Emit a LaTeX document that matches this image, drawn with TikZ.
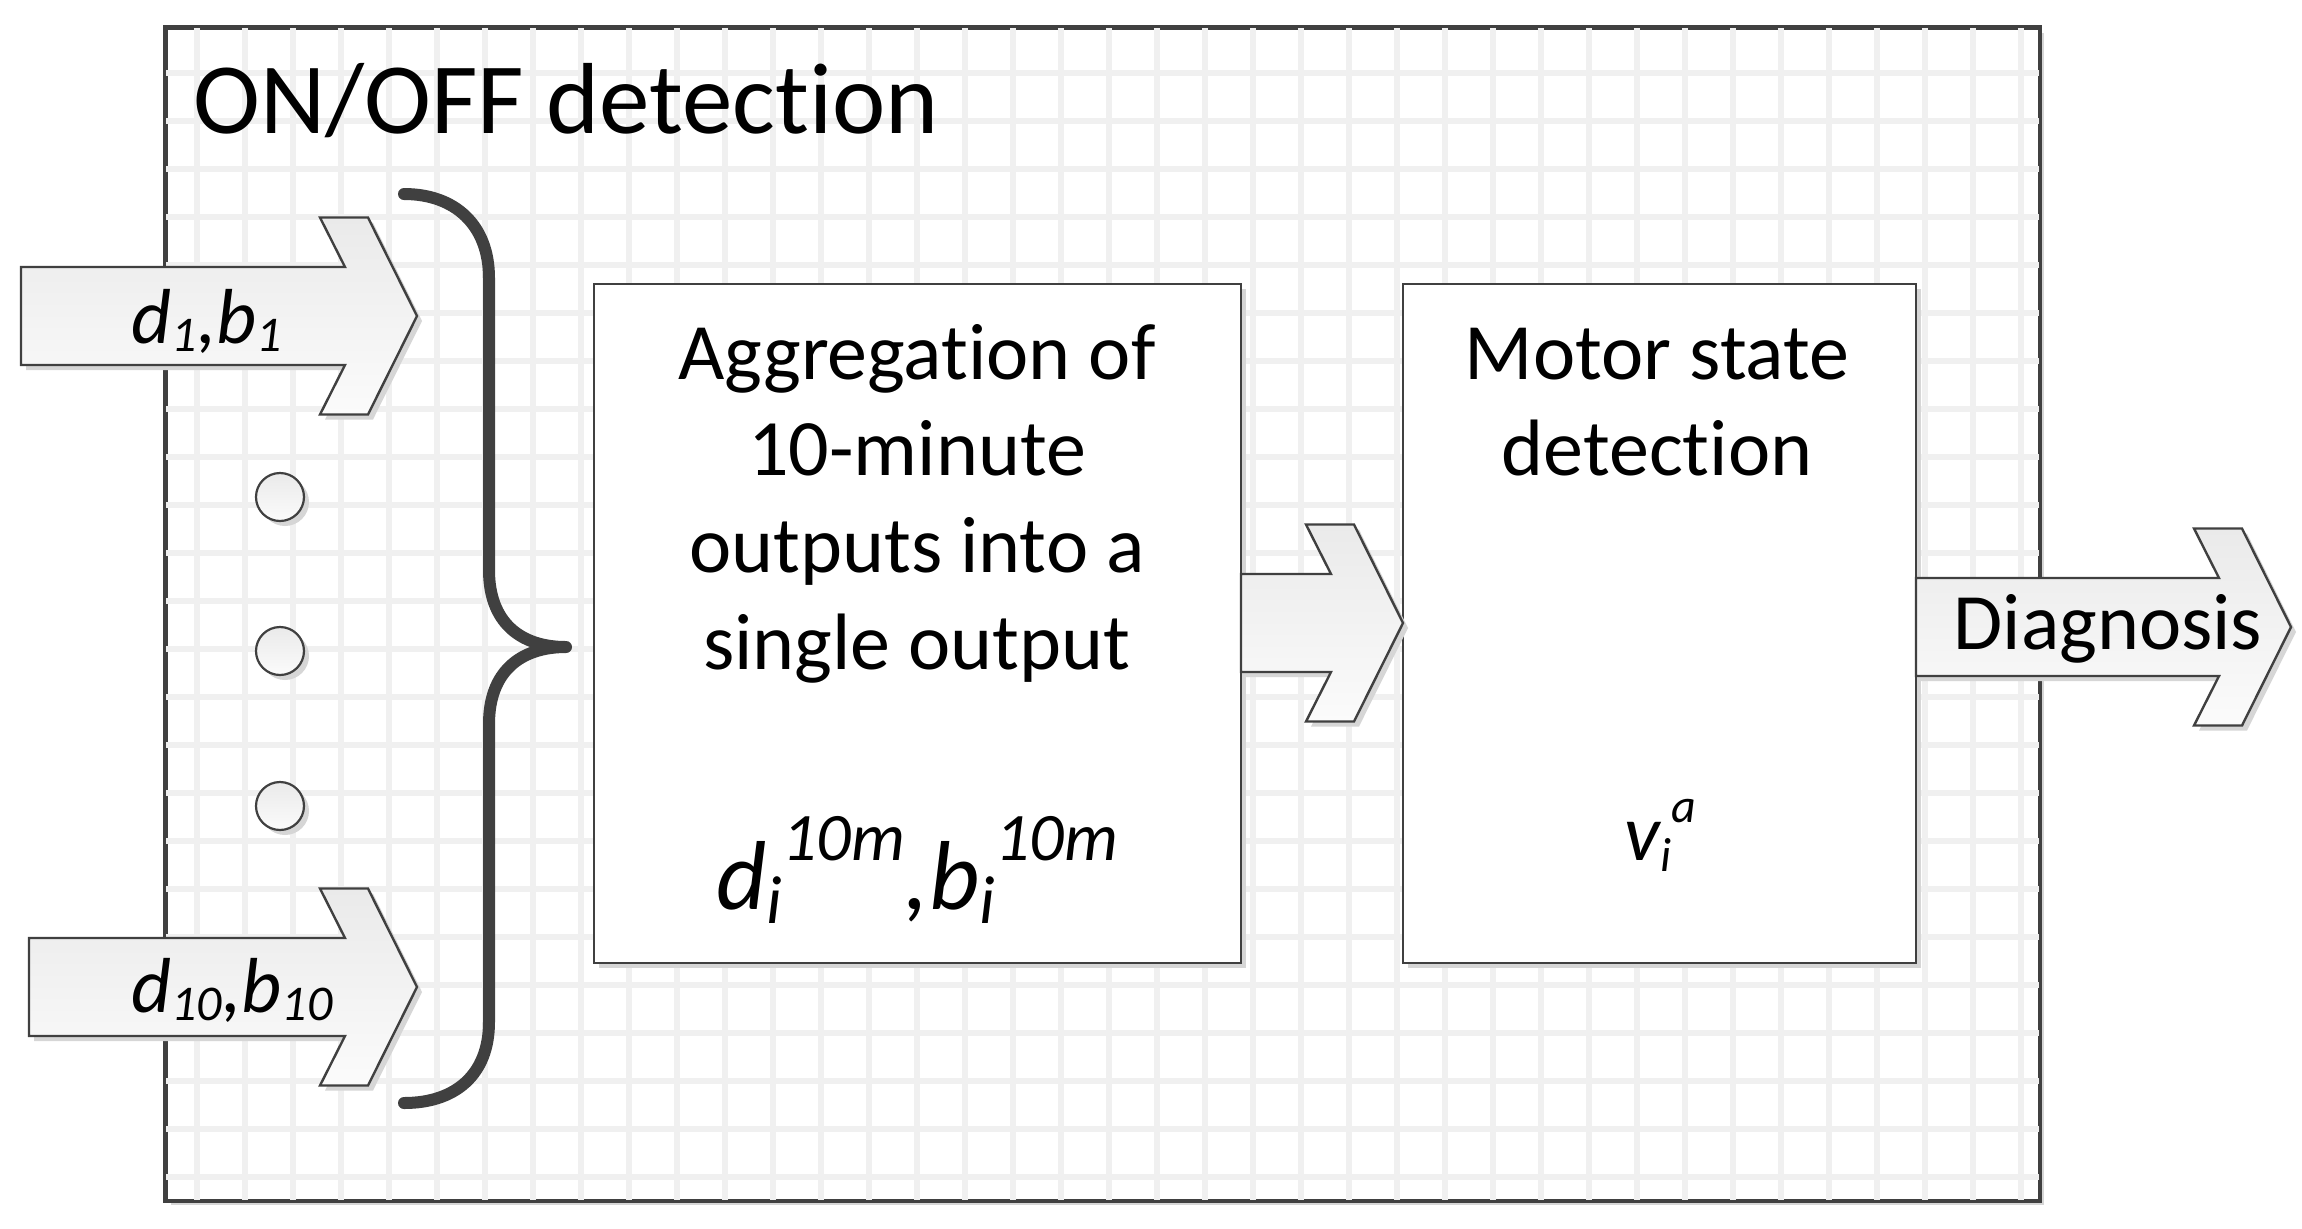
\documentclass[tikz,border=0pt]{standalone}
\usepackage{fontspec}
\setmainfont{Carlito}[Ligatures={NoCommon,NoContextual}]
\usetikzlibrary{shadows}
\definecolor{lc}{HTML}{404040}
\definecolor{gridc}{HTML}{F0F0F0}
\definecolor{agtop}{HTML}{EAEAEA}
\definecolor{agbot}{HTML}{FBFBFB}
\definecolor{shdc}{HTML}{D6D6D6}
\newcommand\tI{t\kern0pt i}
\newcommand\lsc[3]{\raisebox{#2}{\fontsize{#1}{#1}\selectfont #3}}
\newcommand\blockarrow[4]{%
  \draw[barrowstyle] (#1,{#3-49}) -- ({#2-72},{#3-49}) -- ({#2-97},{#3-98.5})
    -- ({#2-49},{#3-98.5}) -- (#2,#3) -- ({#2-49},{#3+98.5}) -- ({#2-97},{#3+98.5})
    -- ({#2-72},{#3+49}) -- (#1,{#3+49}) -- cycle;
  \coordinate (#4) at (#2,#3);}
\tikzset{
  shd/.style={drop shadow={shadow xshift=2.5pt,shadow yshift=-2.5pt,fill=shdc,opacity=1}},
  barrowstyle/.style={draw=lc,line width=1.2pt,top color=agtop,bottom color=agbot,shd,line join=miter},
  boxstyle/.style={draw=lc,line width=1.4pt,fill=white,shd,inner sep=0pt},
  framestyle/.style={draw=lc,line width=1.5pt,fill=white,shd,inner sep=0pt},
  dotstyle/.style={circle,draw=lc,line width=1.1pt,top color=agtop,bottom color=agbot,shd,minimum size=24pt,inner sep=0pt},
  bracestyle/.style={draw=lc,line width=6pt,line cap=round,line join=round},
  bigtext/.style={font=\fontsize{40}{48.35}\selectfont,inner sep=0pt,anchor=base},
}
\begin{document}
\begin{tikzpicture}[x=0.5pt,y=-0.5pt]
\useasboundingbox (0,0) rectangle (2302,1228);
% frame
\node[framestyle,minimum width=936.5pt,minimum height=586pt] (frame) at (1102.5,614) {};
\begin{scope}
  \clip (166,28) rectangle (2039,1200);
  \foreach \k in {0,...,38} \draw[gridc,line width=3pt] ({197+48*\k},28) -- ({197+48*\k},1200);
  \foreach \k in {0,...,23} \draw[gridc,line width=3pt] (166,{72.7+48*\k}) -- (2039,{72.7+48*\k});
\end{scope}
\draw[lc,line width=1.5pt] (frame.south west) rectangle (frame.north east);
\node[font=\fontsize{50.5}{60}\selectfont,inner sep=0pt,anchor=base] (title) at (566,133) {ON/OFF detec\tI on};
% input arrows
\blockarrow{21}{417}{316}{a1}
\node[inner sep=0pt,anchor=base,font=\fontsize{39}{45}\selectfont\itshape] (t1) at (207,343) {d\lsc{25}{-4pt}{1},b\lsc{25}{-4pt}{1}};
\blockarrow{29}{417}{987}{a10}
\node[inner sep=0pt,anchor=base,font=\fontsize{39}{45}\selectfont\itshape] (t10) at (232,1012) {d\lsc{25}{-4pt}{10},b\lsc{25}{-4pt}{10}};
% dots
\node[dotstyle] (c1) at (280,497) {};
\node[dotstyle] (c2) at (280,651) {};
\node[dotstyle] (c3) at (280,806) {};
% brace
\draw[bracestyle] (404,194) .. controls (455,194) and (489,225) .. (489,278) -- (489,570)
  .. controls (489,622) and (520,647) .. (566,647)
  .. controls (520,647) and (489,672) .. (489,724) -- (489,1022)
  .. controls (489,1075) and (455,1103) .. (404,1103);
% boxes
\node[boxstyle,minimum width=323.5pt,minimum height=339.5pt] (agg) at (917.5,623.5) {};
\node[boxstyle,minimum width=256.5pt,minimum height=339.5pt] (mot) at (1659.5,623.5) {};
\node[bigtext] (aggt) at (917,379) {\begin{tabular}[t]{@{}c@{}}Aggrega\tI on of\\10-minute\\outputs into a\\single output\end{tabular}};
\node[inner sep=0pt,anchor=base,font=\fontsize{49}{55}\selectfont\itshape] (aggv) at (917,909)
  {d\lsc{34}{-7pt}{i}\lsc{34}{24.5pt}{10m},b\lsc{34}{-7pt}{i}\lsc{34}{24.5pt}{10m}};
\node[bigtext] (mott) at (1657,379) {\begin{tabular}[t]{@{}c@{}}Motor state\\detec\tI on\end{tabular}};
\node[inner sep=0pt,anchor=base,font=\fontsize{40}{46}\selectfont\itshape] (motv) at (1660,860)
  {v\lsc{24}{-5.5pt}{i}\lsc{24}{19pt}{a}};
% connecting arrows
\blockarrow{1241}{1403}{623}{amid}
\blockarrow{1916}{2291}{627}{adiag}
\node[bigtext] (diag) at (2108,649) {Diagnosis};
\end{tikzpicture}
\end{document}
